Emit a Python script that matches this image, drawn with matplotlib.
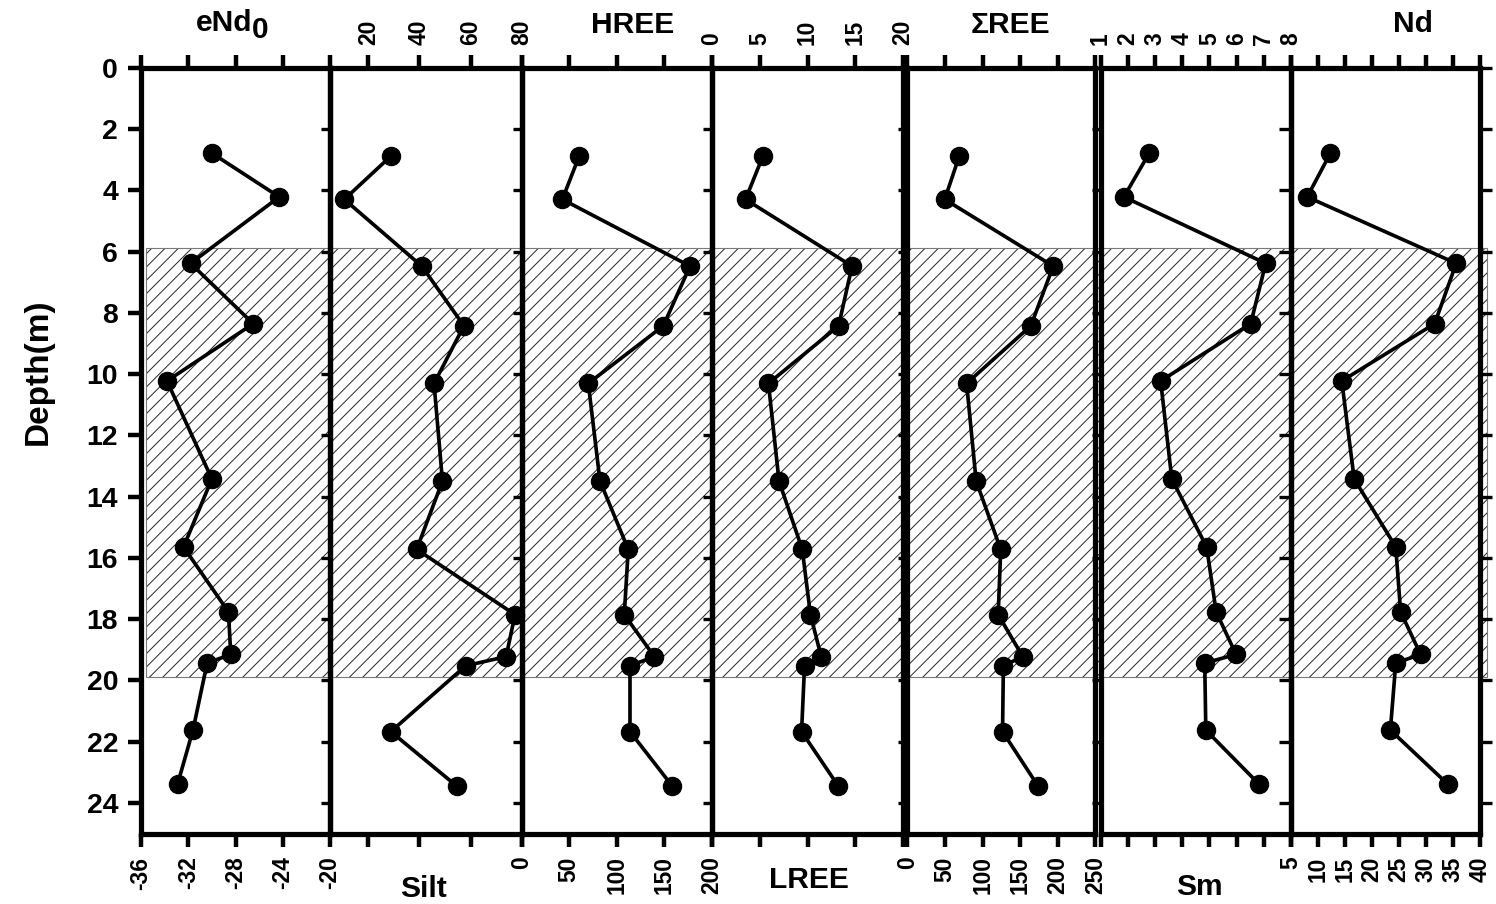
import matplotlib
matplotlib.use("Agg")
import matplotlib.pyplot as plt
from matplotlib.patches import Rectangle

# ---- data -----------------------------------------------------------------
depth_iso = [2.78, 4.21, 6.38, 8.35, 10.22, 13.42, 15.64, 17.76, 19.15, 19.43, 21.62, 23.38]
depth_geo = [2.87, 4.29, 6.47, 8.42, 10.30, 13.49, 15.72, 17.85, 19.22, 19.52, 21.67, 23.45]

end0 = [-30.0, -24.3, -31.8, -26.5, -33.8, -30.0, -32.4, -28.6, -28.4, -30.4, -31.6, -32.9]
silt = [28.9, 10.6, 40.9, 57.4, 45.7, 49.0, 38.9, 77.4, 73.9, 58.1, 28.8, 54.6]
hree = [60.5, 42.7, 176.9, 148.8, 70.0, 82.3, 112.0, 107.8, 139.4, 113.8, 113.8, 158.3]
lree = [5.34, 3.51, 14.66, 13.26, 5.91, 7.02, 9.45, 10.31, 11.43, 9.69, 9.38, 13.23]
sree = [68.9, 49.5, 193.8, 164.0, 78.6, 91.3, 124.0, 120.6, 153.2, 127.5, 126.4, 173.7]
sm = [2.79, 1.86, 7.07, 6.52, 3.21, 3.62, 4.90, 5.25, 5.98, 4.83, 4.87, 6.82]
nd = [12.3, 8.0, 35.6, 31.6, 14.4, 16.7, 24.4, 25.3, 29.0, 24.4, 23.4, 34.0]

titles = ["eNd", "Silt", "HREE", "LREE", "\u03a3REE", "Sm", "Nd"]
x_limits = [(-36, -20), (5, 80), (0, 200), (0, 20), (0, 250), (1, 8), (5, 40)]
x_ticks = [[-36, -32, -28, -24, -20], [20, 40, 60, 80], [0, 50, 100, 150, 200],
           [0, 5, 10, 15, 20], [0, 50, 100, 150, 200, 250], [1, 2, 3, 4, 5, 6, 7, 8],
           [5, 10, 15, 20, 25, 30, 35, 40]]
label_side = ["bottom", "top", "bottom", "top", "bottom", "top", "bottom"]
series = [(end0, depth_iso), (silt, depth_geo), (hree, depth_geo), (lree, depth_geo),
          (sree, depth_geo), (sm, depth_iso), (nd, depth_iso)]
depth_ticks = list(range(0, 25, 2))
zone = (5.87, 19.9)   # shaded interval, m

# ---- layout ----------------------------------------------------------------
W, H, DPI = 1496, 904, 80
plt.rcParams['font.family'] = ['Liberation Sans', 'DejaVu Sans']
plt.rcParams['font.weight'] = 'bold'
plt.rcParams['hatch.linewidth'] = 0.9
plt.rcParams['axes.unicode_minus'] = False

fig = plt.figure(figsize=(W / DPI, H / DPI), dpi=DPI)
fig.patch.set_facecolor('white')

Y_TOP, Y_BOT = 68.0, 833.6
DMAX = 25


def fx(p):
    return p / W


def fy(p):
    return 1 - p / H


def axes_px(x0, x1):
    return fig.add_axes([fx(x0), fy(Y_BOT), (x1 - x0) / W, (Y_BOT - Y_TOP) / H])


# hatched interval spanning all columns
bg = axes_px(146, 1487)
bg.set_xlim(0, 1)
bg.set_ylim(DMAX, 0)
bg.axis('off')
bg.add_patch(Rectangle((0, zone[0]), 1, zone[1] - zone[0], facecolor='white',
                       edgecolor='#2a2a2a', hatch='//', linewidth=0, clip_on=False))
bg.add_patch(Rectangle((0, zone[0]), 1, zone[1] - zone[0], fill=False,
                       edgecolor='#7a7a7a', linewidth=1.0, clip_on=False))

edges = [(141, 330), (330, 521.7), (521.7, 712), (712, 903),
         (907.5, 1095.5), (1100.5, 1291), (1291, 1480)]

for i, ((x0, x1), (vals, dep), lim, ticks, side) in enumerate(
        zip(edges, series, x_limits, x_ticks, label_side)):
    ax = axes_px(x0, x1)
    ax.set_facecolor('none')
    ax.plot(vals, dep, '-o', color='black', lw=3.3, ms=16.5, zorder=3, clip_on=False)
    ax.set_xlim(*lim)
    ax.set_ylim(DMAX, 0)
    ax.set_xticks(ticks)
    ax.tick_params(axis='x', top=True, bottom=True, direction='out', length=11.7,
                   width=4, labelsize=20.5, labelrotation=90, pad=9,
                   labeltop=(side == 'top'), labelbottom=(side == 'bottom'))
    ax.set_yticks(depth_ticks)
    if i == 0:
        ax.tick_params(axis='y', left=True, direction='out', length=11.7, width=4,
                       labelsize=25.5, pad=9)
    else:
        ax.tick_params(axis='y', left=True, direction='out', length=8, width=3,
                       labelleft=False)
    if i == len(edges) - 1:
        ax.tick_params(axis='y', right=True, length=11, width=3)
    for s in ax.spines.values():
        s.set_linewidth(4.7)

# column titles
fs = 27
fig.text(fx(196), fy(31), titles[0], ha='left', va='baseline', fontsize=fs)
fig.text(fx(252), fy(38), "0", ha='left', va='baseline', fontsize=fs)
fig.text(fx(423.5), fy(897), titles[1], ha='center', va='baseline', fontsize=fs)
fig.text(fx(633), fy(33), titles[2], ha='center', va='baseline', fontsize=fs)
fig.text(fx(808.5), fy(888), titles[3], ha='center', va='baseline', fontsize=fs)
fig.text(fx(1010), fy(33), titles[4], ha='center', va='baseline', fontsize=fs)
fig.text(fx(1199), fy(895), titles[5], ha='center', va='baseline', fontsize=fs)
fig.text(fx(1413), fy(32), titles[6], ha='center', va='baseline', fontsize=fs)

fig.text(fx(38), fy(372), "Depth(m)", rotation=90, ha='center', va='center',
         fontsize=30)

fig.savefig("out.png", dpi=DPI)
